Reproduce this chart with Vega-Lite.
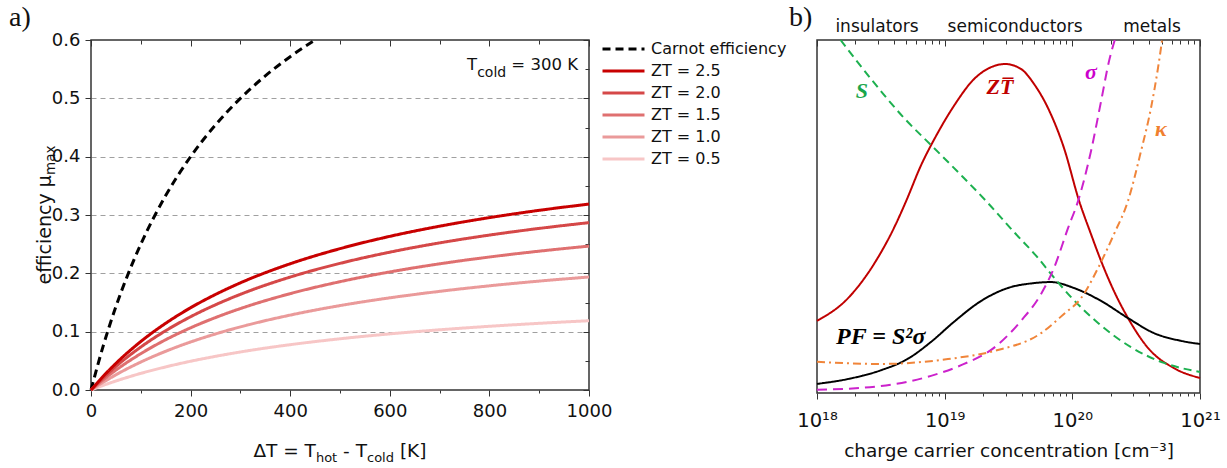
{
  "$schema": "https://vega.github.io/schema/vega-lite/v6.json",
  "background": "white",
  "padding": {"left": 8, "top": 3, "right": 0, "bottom": 0},
  "config": {
    "font": "DejaVu Sans",
    "view": {"stroke": "#333333", "strokeWidth": 1.5},
    "axis": {"labelColor": "#111111", "tickColor": "#333333", "domain": false, "labelFont": "DejaVu Sans", "titleFont": "DejaVu Sans", "titleFontWeight": "normal", "titleColor": "#111111", "labelFlush": false, "labelOverlap": false, "labelBound": false}
  },
  "datasets": {
    "eff": [
      {"dT": 0, "eta": 0, "series": "Carnot efficiency"},
      {"dT": 25, "eta": 0.0769, "series": "Carnot efficiency"},
      {"dT": 50, "eta": 0.1429, "series": "Carnot efficiency"},
      {"dT": 75, "eta": 0.2, "series": "Carnot efficiency"},
      {"dT": 100, "eta": 0.25, "series": "Carnot efficiency"},
      {"dT": 150, "eta": 0.3333, "series": "Carnot efficiency"},
      {"dT": 200, "eta": 0.4, "series": "Carnot efficiency"},
      {"dT": 250, "eta": 0.4545, "series": "Carnot efficiency"},
      {"dT": 300, "eta": 0.5, "series": "Carnot efficiency"},
      {"dT": 350, "eta": 0.5385, "series": "Carnot efficiency"},
      {"dT": 400, "eta": 0.5714, "series": "Carnot efficiency"},
      {"dT": 450, "eta": 0.6, "series": "Carnot efficiency"},

      {"dT": 0, "eta": 0, "series": "ZT = 0.5"},
      {"dT": 25, "eta": 0.0081, "series": "ZT = 0.5"},
      {"dT": 50, "eta": 0.0154, "series": "ZT = 0.5"},
      {"dT": 100, "eta": 0.0285, "series": "ZT = 0.5"},
      {"dT": 150, "eta": 0.0396, "series": "ZT = 0.5"},
      {"dT": 200, "eta": 0.0493, "series": "ZT = 0.5"},
      {"dT": 250, "eta": 0.0577, "series": "ZT = 0.5"},
      {"dT": 300, "eta": 0.0652, "series": "ZT = 0.5"},
      {"dT": 400, "eta": 0.0777, "series": "ZT = 0.5"},
      {"dT": 500, "eta": 0.0878, "series": "ZT = 0.5"},
      {"dT": 600, "eta": 0.0962, "series": "ZT = 0.5"},
      {"dT": 700, "eta": 0.1032, "series": "ZT = 0.5"},
      {"dT": 800, "eta": 0.1092, "series": "ZT = 0.5"},
      {"dT": 900, "eta": 0.1143, "series": "ZT = 0.5"},
      {"dT": 1000, "eta": 0.1188, "series": "ZT = 0.5"},

      {"dT": 0, "eta": 0, "series": "ZT = 1.0"},
      {"dT": 25, "eta": 0.0136, "series": "ZT = 1.0"},
      {"dT": 50, "eta": 0.0261, "series": "ZT = 1.0"},
      {"dT": 100, "eta": 0.0479, "series": "ZT = 1.0"},
      {"dT": 150, "eta": 0.0664, "series": "ZT = 1.0"},
      {"dT": 200, "eta": 0.0823, "series": "ZT = 1.0"},
      {"dT": 250, "eta": 0.0961, "series": "ZT = 1.0"},
      {"dT": 300, "eta": 0.1082, "series": "ZT = 1.0"},
      {"dT": 400, "eta": 0.1284, "series": "ZT = 1.0"},
      {"dT": 500, "eta": 0.1447, "series": "ZT = 1.0"},
      {"dT": 600, "eta": 0.158, "series": "ZT = 1.0"},
      {"dT": 700, "eta": 0.1691, "series": "ZT = 1.0"},
      {"dT": 800, "eta": 0.1786, "series": "ZT = 1.0"},
      {"dT": 900, "eta": 0.1867, "series": "ZT = 1.0"},
      {"dT": 1000, "eta": 0.1937, "series": "ZT = 1.0"},

      {"dT": 0, "eta": 0, "series": "ZT = 1.5"},
      {"dT": 25, "eta": 0.0179, "series": "ZT = 1.5"},
      {"dT": 50, "eta": 0.0341, "series": "ZT = 1.5"},
      {"dT": 100, "eta": 0.0623, "series": "ZT = 1.5"},
      {"dT": 150, "eta": 0.0862, "series": "ZT = 1.5"},
      {"dT": 200, "eta": 0.1066, "series": "ZT = 1.5"},
      {"dT": 250, "eta": 0.1242, "series": "ZT = 1.5"},
      {"dT": 300, "eta": 0.1396, "series": "ZT = 1.5"},
      {"dT": 400, "eta": 0.1652, "series": "ZT = 1.5"},
      {"dT": 500, "eta": 0.1857, "series": "ZT = 1.5"},
      {"dT": 600, "eta": 0.2024, "series": "ZT = 1.5"},
      {"dT": 700, "eta": 0.2163, "series": "ZT = 1.5"},
      {"dT": 800, "eta": 0.228, "series": "ZT = 1.5"},
      {"dT": 900, "eta": 0.238, "series": "ZT = 1.5"},
      {"dT": 1000, "eta": 0.2467, "series": "ZT = 1.5"},

      {"dT": 0, "eta": 0, "series": "ZT = 2.0"},
      {"dT": 25, "eta": 0.0212, "series": "ZT = 2.0"},
      {"dT": 50, "eta": 0.0404, "series": "ZT = 2.0"},
      {"dT": 100, "eta": 0.0737, "series": "ZT = 2.0"},
      {"dT": 150, "eta": 0.1017, "series": "ZT = 2.0"},
      {"dT": 200, "eta": 0.1256, "series": "ZT = 2.0"},
      {"dT": 250, "eta": 0.1461, "series": "ZT = 2.0"},
      {"dT": 300, "eta": 0.164, "series": "ZT = 2.0"},
      {"dT": 400, "eta": 0.1936, "series": "ZT = 2.0"},
      {"dT": 500, "eta": 0.2171, "series": "ZT = 2.0"},
      {"dT": 600, "eta": 0.2363, "series": "ZT = 2.0"},
      {"dT": 700, "eta": 0.2522, "series": "ZT = 2.0"},
      {"dT": 800, "eta": 0.2656, "series": "ZT = 2.0"},
      {"dT": 900, "eta": 0.277, "series": "ZT = 2.0"},
      {"dT": 1000, "eta": 0.2869, "series": "ZT = 2.0"},

      {"dT": 0, "eta": 0, "series": "ZT = 2.5"},
      {"dT": 25, "eta": 0.024, "series": "ZT = 2.5"},
      {"dT": 50, "eta": 0.0456, "series": "ZT = 2.5"},
      {"dT": 100, "eta": 0.0831, "series": "ZT = 2.5"},
      {"dT": 150, "eta": 0.1144, "series": "ZT = 2.5"},
      {"dT": 200, "eta": 0.141, "series": "ZT = 2.5"},
      {"dT": 250, "eta": 0.1638, "series": "ZT = 2.5"},
      {"dT": 300, "eta": 0.1837, "series": "ZT = 2.5"},
      {"dT": 400, "eta": 0.2164, "series": "ZT = 2.5"},
      {"dT": 500, "eta": 0.2423, "series": "ZT = 2.5"},
      {"dT": 600, "eta": 0.2634, "series": "ZT = 2.5"},
      {"dT": 700, "eta": 0.2808, "series": "ZT = 2.5"},
      {"dT": 800, "eta": 0.2955, "series": "ZT = 2.5"},
      {"dT": 900, "eta": 0.308, "series": "ZT = 2.5"},
      {"dT": 1000, "eta": 0.3187, "series": "ZT = 2.5"}
    ],
    "tb": [
      {"n": 1e18, "v": 20.6, "curve": "ZT"},
      {"n": 1.75e18, "v": 27.1, "curve": "ZT"},
      {"n": 2.8e18, "v": 36.9, "curve": "ZT"},
      {"n": 4.0e18, "v": 47.1, "curve": "ZT"},
      {"n": 5.0e18, "v": 54.9, "curve": "ZT"},
      {"n": 6.5e18, "v": 64.9, "curve": "ZT"},
      {"n": 8.55e18, "v": 73.4, "curve": "ZT"},
      {"n": 1.18e19, "v": 82.0, "curve": "ZT"},
      {"n": 1.7e19, "v": 89.7, "curve": "ZT"},
      {"n": 2.31e19, "v": 93.1, "curve": "ZT"},
      {"n": 2.97e19, "v": 94.0, "curve": "ZT"},
      {"n": 3.96e19, "v": 92.6, "curve": "ZT"},
      {"n": 5.01e19, "v": 88.3, "curve": "ZT"},
      {"n": 6.45e19, "v": 81.4, "curve": "ZT"},
      {"n": 8.6e19, "v": 70.0, "curve": "ZT"},
      {"n": 1.13e20, "v": 54.9, "curve": "ZT"},
      {"n": 1.4e20, "v": 45.4, "curve": "ZT"},
      {"n": 1.68e20, "v": 37.7, "curve": "ZT"},
      {"n": 2.12e20, "v": 29.1, "curve": "ZT"},
      {"n": 2.73e20, "v": 21.4, "curve": "ZT"},
      {"n": 3.91e20, "v": 12.9, "curve": "ZT"},
      {"n": 6.25e20, "v": 7.1, "curve": "ZT"},
      {"n": 1e21, "v": 4.3, "curve": "ZT"},

      {"n": 1e18, "v": 2.6, "curve": "PF"},
      {"n": 1.75e18, "v": 4.0, "curve": "PF"},
      {"n": 3.17e18, "v": 6.5, "curve": "PF"},
      {"n": 5.16e18, "v": 9.8, "curve": "PF"},
      {"n": 7.82e18, "v": 14.6, "curve": "PF"},
      {"n": 1.18e19, "v": 20.3, "curve": "PF"},
      {"n": 1.93e19, "v": 26.3, "curve": "PF"},
      {"n": 3.13e19, "v": 30.0, "curve": "PF"},
      {"n": 5.01e19, "v": 31.4, "curve": "PF"},
      {"n": 6.81e19, "v": 31.7, "curve": "PF"},
      {"n": 1.03e20, "v": 30.0, "curve": "PF"},
      {"n": 1.68e20, "v": 26.3, "curve": "PF"},
      {"n": 2.73e20, "v": 21.4, "curve": "PF"},
      {"n": 4.37e20, "v": 17.1, "curve": "PF"},
      {"n": 7.1e20, "v": 14.9, "curve": "PF"},
      {"n": 1e21, "v": 14.0, "curve": "PF"},

      {"n": 1.53e18, "v": 100.86, "curve": "S"},
      {"n": 2.65e18, "v": 89.7, "curve": "S"},
      {"n": 4.8e18, "v": 78.6, "curve": "S"},
      {"n": 8.25e18, "v": 70.0, "curve": "S"},
      {"n": 1.34e19, "v": 62.3, "curve": "S"},
      {"n": 2.18e19, "v": 54.3, "curve": "S"},
      {"n": 3.49e19, "v": 46.0, "curve": "S"},
      {"n": 5.38e19, "v": 38.6, "curve": "S"},
      {"n": 6.81e19, "v": 34.0, "curve": "S"},
      {"n": 9.77e19, "v": 27.4, "curve": "S"},
      {"n": 1.59e20, "v": 20.0, "curve": "S"},
      {"n": 2.88e20, "v": 13.1, "curve": "S"},
      {"n": 5.22e20, "v": 8.6, "curve": "S"},
      {"n": 1e21, "v": 6.0, "curve": "S"},

      {"n": 1e18, "v": 0.9, "curve": "σ"},
      {"n": 3.17e18, "v": 2.0, "curve": "σ"},
      {"n": 7.82e18, "v": 4.9, "curve": "σ"},
      {"n": 1.42e19, "v": 8.3, "curve": "σ"},
      {"n": 2.43e19, "v": 12.9, "curve": "σ"},
      {"n": 3.96e19, "v": 20.6, "curve": "σ"},
      {"n": 5.69e19, "v": 28.3, "curve": "σ"},
      {"n": 7.18e19, "v": 35.7, "curve": "σ"},
      {"n": 9.25e19, "v": 47.1, "curve": "σ"},
      {"n": 1.11e20, "v": 54.9, "curve": "σ"},
      {"n": 1.4e20, "v": 69.1, "curve": "σ"},
      {"n": 1.68e20, "v": 83.4, "curve": "σ"},
      {"n": 1.94e20, "v": 94.9, "curve": "σ"},
      {"n": 2.15e20, "v": 100.86, "curve": "σ"},

      {"n": 1e18, "v": 8.9, "curve": "κ"},
      {"n": 3.17e18, "v": 8.3, "curve": "κ"},
      {"n": 1.06e19, "v": 9.7, "curve": "κ"},
      {"n": 2.43e19, "v": 12.0, "curve": "κ"},
      {"n": 5.69e19, "v": 17.1, "curve": "κ"},
      {"n": 8.6e19, "v": 22.6, "curve": "κ"},
      {"n": 1.17e20, "v": 27.1, "curve": "κ"},
      {"n": 1.59e20, "v": 35.7, "curve": "κ"},
      {"n": 2.12e20, "v": 45.4, "curve": "κ"},
      {"n": 2.73e20, "v": 54.9, "curve": "κ"},
      {"n": 3.45e20, "v": 69.1, "curve": "κ"},
      {"n": 4.13e20, "v": 81.4, "curve": "κ"},
      {"n": 4.69e20, "v": 92.9, "curve": "κ"},
      {"n": 5.05e20, "v": 100.86, "curve": "κ"}
    ]
  },
  "bounds": "flush",
  "spacing": 228,
  "resolve": {
    "scale": {"x": "independent", "y": "independent", "color": "independent", "strokeDash": "independent"},
    "legend": {"color": "independent", "strokeDash": "independent"}
  },
  "hconcat": [
    {
      "width": 498,
      "height": 350,
      "resolve": {"axis": {"x": "independent", "y": "independent"}},
      "layer": [
        {
          "layer": [
            {
              "data": {"name": "eff"},
              "mark": {"type": "line", "strokeWidth": 3, "interpolate": "monotone"},
              "encoding": {
                "x": {
                  "field": "dT", "type": "quantitative",
                  "scale": {"domain": [0, 1000], "nice": false},
                  "axis": {
                    "title": null, "grid": false,
                    "values": [0, 100, 200, 300, 400, 500, 600, 700, 800, 900, 1000],
                    "labelExpr": "datum.value % 200 == 0 ? format(datum.value, 'd') : ''",
                    "labelFontSize": 18, "labelPadding": 6,
                    "tickSize": {"condition": {"test": "datum.value % 200 == 0", "value": 6}, "value": 3}
                  }
                },
                "y": {
                  "field": "eta", "type": "quantitative",
                  "scale": {"domain": [0, 0.6], "nice": false},
                  "axis": {
                    "title": null,
                    "values": [0, 0.05, 0.1, 0.15, 0.2, 0.25, 0.3, 0.35, 0.4, 0.45, 0.5, 0.55, 0.6],
                    "labelExpr": "round(datum.value*20) % 2 == 0 ? format(datum.value, '.1f') : ''",
                    "labelFontSize": 18, "labelPadding": 5,
                    "tickSize": {"condition": {"test": "round(datum.value*20) % 2 == 0", "value": 6}, "value": 3},
                    "grid": true, "gridColor": "#a0a0a0", "gridDash": [5, 4], "gridWidth": 1,
                    "gridOpacity": {"condition": {"test": "round(datum.value*20) % 2 == 0 && datum.value > 0.01 && datum.value < 0.59", "value": 1}, "value": 0}
                  }
                },
                "color": {
                  "field": "series", "type": "nominal",
                  "scale": {
                    "domain": ["Carnot efficiency", "ZT = 2.5", "ZT = 2.0", "ZT = 1.5", "ZT = 1.0", "ZT = 0.5"],
                    "range": ["#000000", "#c80000", "#d54848", "#df7070", "#ea9a9a", "#f7c6c6"]
                  },
                  "legend": {
                    "title": null, "orient": "none", "legendX": 510, "legendY": -2,
                    "symbolType": "stroke", "symbolSize": 1764, "symbolStrokeWidth": 3,
                    "labelFontSize": 16, "labelColor": "#111111", "labelOffset": 5, "labelLimit": 300,
                    "clipHeight": 22, "rowPadding": 0, "padding": 0
                  }
                },
                "strokeDash": {
                  "field": "series", "type": "nominal",
                  "scale": {
                    "domain": ["Carnot efficiency", "ZT = 2.5", "ZT = 2.0", "ZT = 1.5", "ZT = 1.0", "ZT = 0.5"],
                    "range": [[8, 5], [1, 0], [1, 0], [1, 0], [1, 0], [1, 0]]
                  },
                  "legend": {
                    "title": null, "orient": "none", "legendX": 510, "legendY": -2,
                    "symbolType": "stroke", "symbolSize": 1764, "symbolStrokeWidth": 3,
                    "labelFontSize": 16, "labelColor": "#111111", "labelOffset": 5, "labelLimit": 300,
                    "clipHeight": 22, "rowPadding": 0, "padding": 0
                  }
                }
              }
            },
            {
              "data": {"values": [{}]},
              "mark": {"type": "text", "text": "a)", "font": "Liberation Serif", "fontSize": 28, "align": "left", "baseline": "alphabetic", "dx": -82, "dy": -14, "color": "#111111"},
              "encoding": {"x": {"datum": 0, "type": "quantitative"}, "y": {"datum": 0.6, "type": "quantitative"}}
            },
            {
              "data": {"values": [{}]},
              "mark": {"type": "text", "text": "T", "fontSize": 16.5, "align": "right", "baseline": "alphabetic", "dx": -100.9, "color": "#111111"},
              "encoding": {"x": {"datum": 977.9, "type": "quantitative"}, "y": {"datum": 0.5486, "type": "quantitative"}}
            },
            {
              "data": {"values": [{}]},
              "mark": {"type": "text", "text": "cold", "fontSize": 14, "align": "right", "baseline": "alphabetic", "dx": -71.8, "dy": 7, "color": "#111111"},
              "encoding": {"x": {"datum": 977.9, "type": "quantitative"}, "y": {"datum": 0.5486, "type": "quantitative"}}
            },
            {
              "data": {"values": [{}]},
              "mark": {"type": "text", "text": "= 300 K", "fontSize": 16.5, "align": "right", "baseline": "alphabetic", "color": "#111111"},
              "encoding": {"x": {"datum": 977.9, "type": "quantitative"}, "y": {"datum": 0.5486, "type": "quantitative"}}
            },
            {
              "data": {"values": [{}]},
              "mark": {"type": "text", "text": "ΔT = T", "fontSize": 18.5, "align": "left", "baseline": "alphabetic", "dx": -86.6, "color": "#111111"},
              "encoding": {"x": {"datum": 500, "type": "quantitative"}, "y": {"datum": -0.11486, "type": "quantitative"}}
            },
            {
              "data": {"values": [{}]},
              "mark": {"type": "text", "text": "hot", "fontSize": 13, "align": "left", "baseline": "alphabetic", "dx": -24.1, "dy": 5, "color": "#111111"},
              "encoding": {"x": {"datum": 500, "type": "quantitative"}, "y": {"datum": -0.11486, "type": "quantitative"}}
            },
            {
              "data": {"values": [{}]},
              "mark": {"type": "text", "text": "- T", "fontSize": 18.5, "align": "left", "baseline": "alphabetic", "dx": 3.1, "color": "#111111"},
              "encoding": {"x": {"datum": 500, "type": "quantitative"}, "y": {"datum": -0.11486, "type": "quantitative"}}
            },
            {
              "data": {"values": [{}]},
              "mark": {"type": "text", "text": "cold", "fontSize": 13, "align": "left", "baseline": "alphabetic", "dx": 27.0, "dy": 5, "color": "#111111"},
              "encoding": {"x": {"datum": 500, "type": "quantitative"}, "y": {"datum": -0.11486, "type": "quantitative"}}
            },
            {
              "data": {"values": [{}]},
              "mark": {"type": "text", "text": "[K]", "fontSize": 18.5, "align": "left", "baseline": "alphabetic", "dx": 59.9, "color": "#111111"},
              "encoding": {"x": {"datum": 500, "type": "quantitative"}, "y": {"datum": -0.11486, "type": "quantitative"}}
            },
            {
              "data": {"values": [{}]},
              "mark": {"type": "text", "text": "efficiency μ", "fontSize": 19, "angle": 270, "align": "left", "baseline": "alphabetic", "dx": -69.5, "dy": -40, "color": "#111111"},
              "encoding": {"x": {"datum": 0, "type": "quantitative"}, "y": {"datum": 0.3, "type": "quantitative"}}
            },
            {
              "data": {"values": [{}]},
              "mark": {"type": "text", "text": "max", "fontSize": 13.5, "angle": 270, "align": "left", "baseline": "alphabetic", "dx": 40.1, "dy": -36, "color": "#111111"},
              "encoding": {"x": {"datum": 0, "type": "quantitative"}, "y": {"datum": 0.3, "type": "quantitative"}}
            }
          ]
        },
        {
          "data": {"values": [{}]},
          "mark": {"type": "point", "opacity": 0},
          "encoding": {
            "x": {"datum": 0, "type": "quantitative", "axis": {"orient": "top", "title": null, "labels": false, "grid": false, "values": [0, 100, 200, 300, 400, 500, 600, 700, 800, 900, 1000], "tickSize": {"condition": {"test": "datum.value % 200 == 0", "value": -6}, "value": -4}}},
            "y": {"datum": 0, "type": "quantitative", "axis": {"orient": "right", "title": null, "labels": false, "grid": false, "values": [0, 0.05, 0.1, 0.15, 0.2, 0.25, 0.3, 0.35, 0.4, 0.45, 0.5, 0.55, 0.6], "tickSize": {"condition": {"test": "round(datum.value*20) % 2 == 0", "value": -6}, "value": -4}}}
          }
        }
      ]
    },
    {
      "width": 383,
      "height": 353,
      "resolve": {"axis": {"x": "independent", "y": "independent"}},
      "layer": [
        {
          "layer": [
            {
              "data": {"name": "tb"},
              "mark": {"type": "line", "strokeWidth": 2, "interpolate": "monotone"},
              "encoding": {
                "x": {
                  "field": "n", "type": "quantitative",
                  "scale": {"type": "log", "domain": [1e18, 1e21], "nice": false},
                  "axis": {
                    "title": "charge carrier concentration [cm⁻³]", "titleFontSize": 18.5, "titlePadding": 12,
                    "grid": false,
                    "values": [1e18, 2e18, 3e18, 4e18, 5e18, 6e18, 7e18, 8e18, 9e18, 1e19, 2e19, 3e19, 4e19, 5e19, 6e19, 7e19, 8e19, 9e19, 1e20, 2e20, 3e20, 4e20, 5e20, 6e20, 7e20, 8e20, 9e20, 1e21],
                    "labelExpr": "abs(log(datum.value)/LN10 - 18) < 0.01 ? '10¹⁸' : abs(log(datum.value)/LN10 - 19) < 0.01 ? '10¹⁹' : abs(log(datum.value)/LN10 - 20) < 0.01 ? '10²⁰' : abs(log(datum.value)/LN10 - 21) < 0.01 ? '10²¹' : ''",
                    "labelFontSize": 19.5, "labelPadding": 12,
                    "tickSize": {"condition": {"test": "abs(log(datum.value)/LN10 - round(log(datum.value)/LN10)) < 0.01", "value": 6}, "value": 3}
                  }
                },
                "y": {"field": "v", "type": "quantitative", "scale": {"domain": [0, 100.86], "nice": false, "zero": false}, "axis": null},
                "color": {
                  "field": "curve", "type": "nominal",
                  "scale": {"domain": ["ZT", "PF", "S", "σ", "κ"], "range": ["#c00000", "#000000", "#1db04f", "#cc22cc", "#f0853a"]},
                  "legend": null
                },
                "strokeDash": {
                  "field": "curve", "type": "nominal",
                  "scale": {"domain": ["ZT", "PF", "S", "σ", "κ"], "range": [[1, 0], [1, 0], [8, 5], [10, 6], [8, 4, 2, 4]]},
                  "legend": null
                }
              }
            },
            {
              "data": {"values": [{}]},
              "mark": {"type": "text", "text": "b)", "font": "Liberation Serif", "fontSize": 28, "align": "left", "baseline": "alphabetic", "dx": -28, "dy": -14, "color": "#111111"},
              "encoding": {"x": {"datum": 1e18, "type": "quantitative"}, "y": {"datum": 100.86, "type": "quantitative"}}
            },
            {
              "data": {"values": [{}]},
              "mark": {"type": "text", "text": "insulators", "fontSize": 17, "align": "center", "baseline": "alphabetic", "color": "#111111"},
              "encoding": {"x": {"datum": 2.95e18, "type": "quantitative"}, "y": {"datum": 103.14, "type": "quantitative"}}
            },
            {
              "data": {"values": [{}]},
              "mark": {"type": "text", "text": "semiconductors", "fontSize": 17, "align": "center", "baseline": "alphabetic", "color": "#111111"},
              "encoding": {"x": {"datum": 3.56e19, "type": "quantitative"}, "y": {"datum": 103.14, "type": "quantitative"}}
            },
            {
              "data": {"values": [{}]},
              "mark": {"type": "text", "text": "metals", "fontSize": 17, "align": "center", "baseline": "alphabetic", "color": "#111111"},
              "encoding": {"x": {"datum": 4.21e20, "type": "quantitative"}, "y": {"datum": 103.14, "type": "quantitative"}}
            },
            {
              "data": {"values": [{}]},
              "mark": {"type": "text", "text": "S", "font": "Liberation Serif", "fontStyle": "italic", "fontWeight": "bold", "fontSize": 22, "align": "center", "baseline": "alphabetic", "color": "#1aa64b"},
              "encoding": {"x": {"datum": 2.25e18, "type": "quantitative"}, "y": {"datum": 84.3, "type": "quantitative"}}
            },
            {
              "data": {"values": [{}]},
              "mark": {"type": "text", "text": "ZT̅", "font": "Liberation Serif", "fontStyle": "italic", "fontWeight": "bold", "fontSize": 22, "align": "center", "baseline": "alphabetic", "color": "#c00000"},
              "encoding": {"x": {"datum": 2.71e19, "type": "quantitative"}, "y": {"datum": 85.4, "type": "quantitative"}}
            },
            {
              "data": {"values": [{}]},
              "mark": {"type": "text", "text": "σ", "font": "Liberation Serif", "fontStyle": "italic", "fontWeight": "bold", "fontSize": 22, "align": "center", "baseline": "alphabetic", "color": "#cc00cc"},
              "encoding": {"x": {"datum": 1.4e20, "type": "quantitative"}, "y": {"datum": 89.7, "type": "quantitative"}}
            },
            {
              "data": {"values": [{}]},
              "mark": {"type": "text", "text": "κ", "font": "Liberation Serif", "fontStyle": "italic", "fontWeight": "bold", "fontSize": 22, "align": "center", "baseline": "alphabetic", "color": "#f0802f"},
              "encoding": {"x": {"datum": 4.94e20, "type": "quantitative"}, "y": {"datum": 73.4, "type": "quantitative"}}
            },
            {
              "data": {"values": [{}]},
              "mark": {"type": "text", "text": "PF = S²σ", "font": "Liberation Serif", "fontStyle": "italic", "fontWeight": "bold", "fontSize": 24, "align": "left", "baseline": "alphabetic", "color": "#000000"},
              "encoding": {"x": {"datum": 1.41e18, "type": "quantitative"}, "y": {"datum": 14.0, "type": "quantitative"}}
            }
          ]
        },
        {
          "data": {"values": [{}]},
          "mark": {"type": "point", "opacity": 0},
          "encoding": {
            "x": {"datum": 1e19, "type": "quantitative", "axis": {"orient": "top", "title": null, "labels": false, "grid": false, "values": [1e18, 2e18, 3e18, 4e18, 5e18, 6e18, 7e18, 8e18, 9e18, 1e19, 2e19, 3e19, 4e19, 5e19, 6e19, 7e19, 8e19, 9e19, 1e20, 2e20, 3e20, 4e20, 5e20, 6e20, 7e20, 8e20, 9e20, 1e21], "tickSize": {"condition": {"test": "abs(log(datum.value)/LN10 - round(log(datum.value)/LN10)) < 0.01", "value": -6}, "value": -4}}},
            "y": {"datum": 50, "type": "quantitative", "axis": null}
          }
        }
      ]
    }
  ]
}
